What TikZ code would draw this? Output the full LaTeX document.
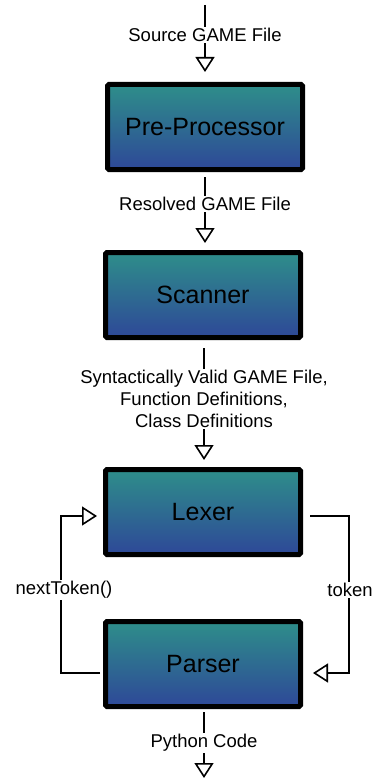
\documentclass[tikz,border=0pt]{standalone}
\usepackage{fontspec}
\setmainfont{Liberation Sans}
\usetikzlibrary{arrows.meta}
\definecolor{boxtop}{RGB}{46,142,138}
\definecolor{boxbot}{RGB}{46,72,152}
\tikzset{
  stage/.style={draw=black, line width=5pt, rounded corners=1.5pt,
    top color=boxtop, bottom color=boxbot, minimum width=195pt,
    minimum height=85pt, inner sep=0pt, font=\fontsize{25}{28}\selectfont},
  flow/.style={line width=1.6pt, -{Triangle[open, width=19pt, length=15pt, line width=1.6pt]}},
  lbl/.style={fill=white, inner sep=1.5pt, font=\fontsize{18.5}{22}\selectfont, align=center}
}
\begin{document}
\begin{tikzpicture}[x=1pt,y=-1pt]
\useasboundingbox (0,0) rectangle (375,781);
\node[stage] (pp) at (205,127) {Pre-Processor};
\node[stage] (sc) at (203,295) {Scanner};
\node[stage] (lx) at (203,512) {Lexer};
\node[stage] (ps) at (203,664) {Parser};

\coordinate (s1) at (205,5);
\coordinate (t1) at (205,72);
\draw[flow] (s1) -- (t1);
\node[lbl] (l1) at (205,35) {Source GAME File};

\coordinate (s2) at (205,177);
\coordinate (t2) at (205,243);
\draw[flow] (s2) -- (t2);
\node[lbl] (l2) at (205,204) {Resolved GAME File};

\coordinate (s3) at (204,348);
\coordinate (t3) at (204,460);
\draw[flow] (s3) -- (t3);
\node[lbl] (l3) at (204,399) {Syntactically Valid GAME File,\\Function Definitions,\\Class Definitions};

\coordinate (s4) at (204,712);
\coordinate (t4) at (204,778);
\draw[flow] (s4) -- (t4);
\node[lbl] (l4) at (204,743) {Python Code};

\coordinate (a1) at (100,673);
\coordinate (a2) at (61,673);
\coordinate (a3) at (61,516);
\coordinate (a4) at (97,516);
\draw[flow] (a1) -- (a2) -- (a3) -- (a4);
\node[lbl] (l5) at (64,590) {nextToken()};

\coordinate (b1) at (310,516);
\coordinate (b2) at (349,516);
\coordinate (b3) at (349,673);
\coordinate (b4) at (313,673);
\draw[flow] (b1) -- (b2) -- (b3) -- (b4);
\node[lbl] (l6) at (350,590) {token};
\end{tikzpicture}
\end{document}
